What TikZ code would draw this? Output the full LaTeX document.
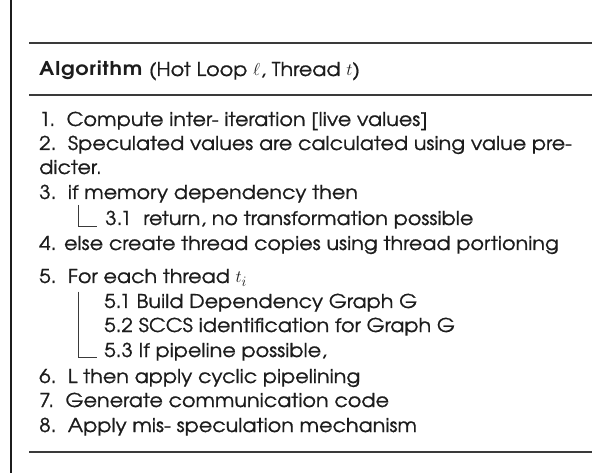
\documentclass[tikz,border=0pt]{standalone}
\usepackage{fontspec}
\setmainfont{TeX Gyre Adventor}[FakeStretch=1.09, UprightFeatures={FakeBold=0.9}, BoldFeatures={LetterSpace=4}]
\definecolor{ink}{HTML}{1C1C1C}
\definecolor{rulecol}{HTML}{3A3A3A}
\tikzset{
  line/.style={anchor=base west, inner sep=0pt, font=\fontsize{19}{21}\selectfont, text=ink},
  rulestyle/.style={draw=rulecol, line width=1.4pt},
  bracket/.style={draw=rulecol, line width=1pt},
}
\begin{document}
\begin{tikzpicture}[x=1pt,y=-1pt]
\useasboundingbox (0,0) rectangle (592,473);
\fill[white] (0,0) rectangle (592,473);
\draw[draw=ink, line width=2pt] (11,0) -- (11,473);
\coordinate (r1a) at (29,43);  \coordinate (r1b) at (592,43);
\coordinate (r2a) at (29,95);  \coordinate (r2b) at (592,95);
\coordinate (r3a) at (29,452); \coordinate (r3b) at (592,452);
\draw[rulestyle] (r1a) -- (r1b);
\draw[rulestyle] (r2a) -- (r2b);
\draw[rulestyle] (r3a) -- (r3b);
\node[line] (hd) at (39,76) {\textbf{Algorithm} (Hot Loop $\ell$, Thread $t$)};
\node[line] (l1) at (39,126) {1.\ \ Compute inter- iteration [live values]};
\node[line] (l2) at (39,150) {2.\ \ Speculated values are calculated using value pre-};
\node[line] (l2b) at (39,174) {dicter.};
\node[line] (l3) at (39,199) {3.\ \ if memory dependency then};
\node[line] (l31) at (105,225) {3.1\ \ return, no transformation possible};
\node[line] (l4) at (39,250) {4. else create thread copies using thread portioning};
\node[line] (l5) at (39,283) {5.\ \ For each thread $t_{\scriptstyle i}$};
\node[line] (l51) at (104,308) {5.1 Build Dependency Graph G};
\node[line] (l52) at (104,332) {5.2 SCCS identification for Graph G};
\node[line] (l53) at (104,357) {5.3 If pipeline possible,};
\node[line] (l6) at (39,383) {6.\ \ L then apply cyclic pipelining};
\node[line] (l7) at (39,407) {7.\ \ Generate communication code};
\node[line] (l8) at (39,432) {8.\ \ Apply mis- speculation mechanism};
\draw[bracket] (78.3,205) -- (78.3,226.5) -- (96.7,226.5);
\draw[bracket] (78.3,291.7) -- (78.3,357) -- (96.7,357);
\end{tikzpicture}
\end{document}
